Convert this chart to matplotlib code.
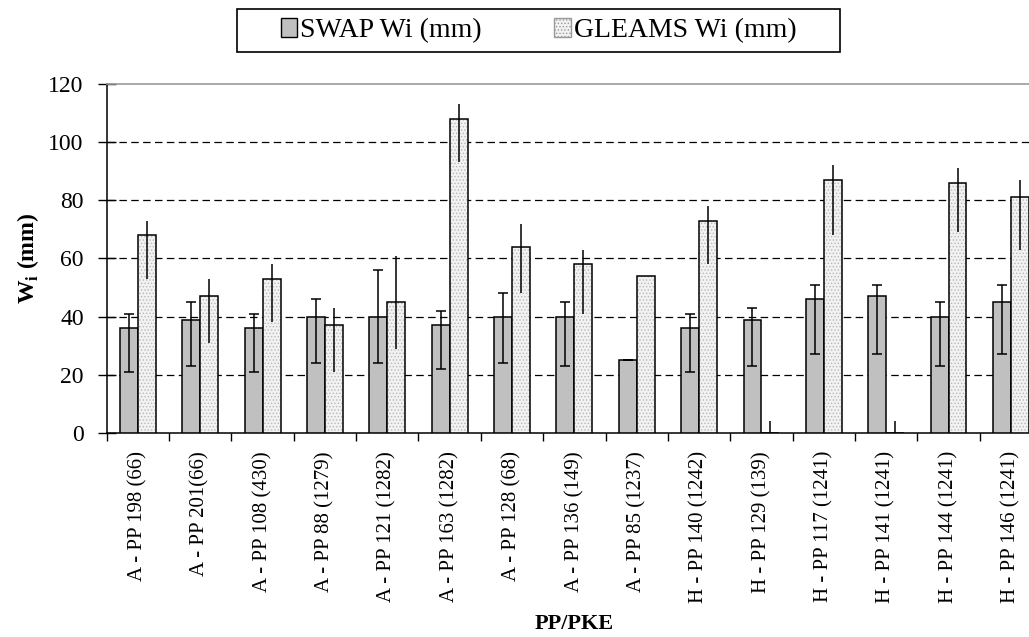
import numpy as np
import matplotlib
matplotlib.use('Agg')
import matplotlib.pyplot as plt
from matplotlib.patches import Patch, Rectangle

plt.rcParams['font.family'] = ['Liberation Serif', 'DejaVu Serif']
plt.rcParams['mathtext.fontset'] = 'custom'
plt.rcParams['mathtext.rm'] = 'Liberation Serif'
plt.rcParams['mathtext.bf'] = 'Liberation Serif:bold'
plt.rcParams['hatch.linewidth'] = 0.6

# ── Data ──────────────────────────────────────────────────────
SITES = ['A - PP 198 (66)', 'A - PP 201(66)', 'A - PP 108 (430)', 'A - PP 88 (1279)',
         'A - PP 121 (1282)', 'A - PP 163 (1282)', 'A - PP 128 (68)', 'A - PP 136 (149)',
         'A - PP 85 (1237)', 'H - PP 140 (1242)', 'H - PP 129 (139)', 'H - PP 117 (1241)',
         'H - PP 141 (1241)', 'H - PP 144 (1241)', 'H - PP 146 (1241)']
swap_wi   = [36, 39, 36, 40, 40, 37, 40, 40, 25, 36, 39, 46, 47, 40, 45]
swap_lo   = [21, 23, 21, 24, 24, 22, 24, 23, 25, 21, 23, 27, 27, 23, 27]
swap_hi   = [41, 45, 41, 46, 56, 42, 48, 45, 25, 41, 43, 51, 51, 45, 51]
gleams_wi = [68, 47, 53, 37, 45, 108, 64, 58, 54, 73, 0, 87, 0, 86, 81]
gleams_lo = [53, 31, 38, 21, 29, 93, 48, 41, 54, 58, 0, 68, 0, 69, 63]
gleams_hi = [73, 53, 58, 43, 61, 113, 72, 63, 54, 78, 4, 92, 4, 91, 87]
YTICKS = [0, 20, 40, 60, 80, 100, 120]

# ── Plot ──────────────────────────────────────────────────────
fig = plt.figure(figsize=(10.29, 6.37), dpi=100)
ax = fig.add_axes([0.1037, 0.3203, 0.909, 0.5479])

x  = np.arange(len(SITES))
bw = 0.288
sw = np.array(swap_wi); gw = np.array(gleams_wi)

ax.bar(x - bw/2, sw, bw, color='#c0c0c0', edgecolor='black', lw=1.1, zorder=3)
ax.bar(x + bw/2, gw, bw, color='#f2f2f2', edgecolor='#b8b8b8', hatch='.....', lw=0, zorder=3)
ax.bar(x + bw/2, gw, bw, fill=False, edgecolor='black', lw=1.1, zorder=4)

ax.errorbar(x - bw/2, sw, yerr=[sw - np.array(swap_lo), np.array(swap_hi) - sw],
            fmt='none', ecolor='black', elinewidth=1.1, capsize=3.5, capthick=1.1, zorder=5)
ax.errorbar(x + bw/2, gw, yerr=[gw - np.array(gleams_lo), np.array(gleams_hi) - gw],
            fmt='none', ecolor='black', elinewidth=1.1, capsize=0, zorder=5)

ax.set_xlim(-0.5, len(SITES) - 0.5)
ax.set_ylim(0, 120)
ax.set_yticks(YTICKS)
ax.set_yticklabels([str(v) for v in YTICKS], fontsize=17)
for v in YTICKS[1:-1]:
    ax.axhline(v, color='black', lw=0.9, dashes=(6, 3.5), zorder=1)

ax.set_xticks(x)
ax.set_xticklabels(SITES, rotation=90, fontsize=15)
ax.tick_params(axis='x', which='major', length=0, pad=13)
ax.set_xticks(np.arange(-0.5, len(SITES), 1), minor=True)
ax.tick_params(axis='x', which='minor', length=6, width=1, direction='out')
ax.tick_params(axis='y', direction='inout', length=13, width=1, pad=10)

ax.spines['top'].set_color('#999999')
ax.spines['top'].set_linewidth(1.2)
ax.spines['right'].set_visible(False)
for s in ['left', 'bottom']:
    ax.spines[s].set_linewidth(1.1)

ax.set_ylabel(r'W$_{\mathbf{i}}$ (mm)', fontsize=17, fontweight='bold', labelpad=5)
ax.set_xlabel('PP/PKE', fontsize=16, fontweight='bold', labelpad=8)

# legend box drawn on its own so the side padding can differ from the top/bottom
fig.patches.append(Rectangle((0.2303, 0.9184), 0.586, 0.0675, transform=fig.transFigure,
                             fill=False, edgecolor='black', lw=1.2))
handles = [Patch(facecolor='#c0c0c0', edgecolor='black', lw=1),
           Patch(facecolor='#f2f2f2', edgecolor='#999999', hatch='.....', lw=1)]
fig.legend(handles, ['SWAP Wi (mm)', 'GLEAMS Wi (mm)'], ncol=2,
           loc='center', bbox_to_anchor=(0.5233, 0.952), fontsize=20,
           frameon=False, handlelength=0.6, handleheight=0.7, handletextpad=0.1,
           columnspacing=2.6, borderpad=0.35, borderaxespad=0)

fig.savefig('out.png', dpi=100)
